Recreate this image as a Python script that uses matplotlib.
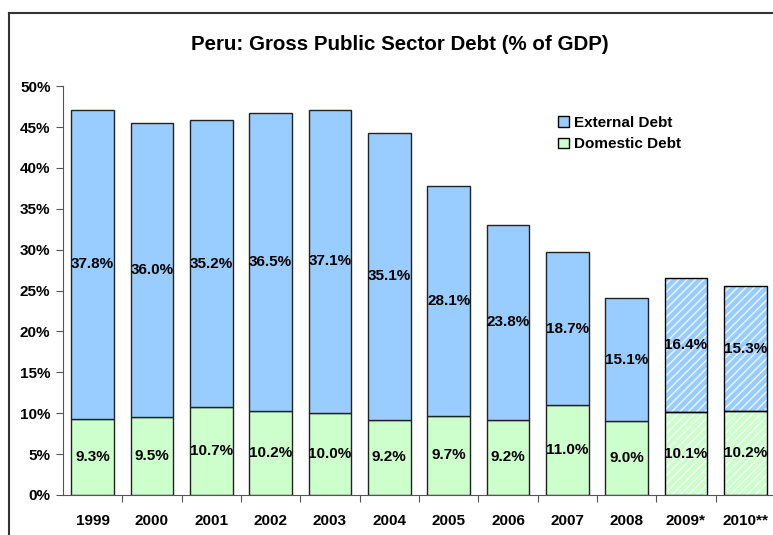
import matplotlib.pyplot as plt
from matplotlib.lines import Line2D

years = ['1999', '2000', '2001', '2002', '2003', '2004', '2005', '2006',
         '2007', '2008', '2009*', '2010**']
domestic = [9.3, 9.5, 10.7, 10.2, 10.0, 9.2, 9.7, 9.2, 11.0, 9.0, 10.1, 10.2]
external = [37.8, 36.0, 35.2, 36.5, 37.1, 35.1, 28.1, 23.8, 18.7, 15.1, 16.4, 15.3]
projected = [False] * 10 + [True, True]

blue = '#99CCFF'
green = '#CCFFCC'

plt.rcParams['font.family'] = ['Liberation Sans', 'DejaVu Sans']
plt.rcParams['font.weight'] = 'bold'
plt.rcParams['hatch.linewidth'] = 1.0


def main():
    fig = plt.figure(figsize=(7.73, 5.35), dpi=100)
    ax = fig.add_axes([0.0815, 0.075, 0.921, 0.764])
    x = list(range(len(years)))
    w = 0.72

    for i in x:
        d, e = domestic[i], external[i]
        if projected[i]:
            ax.bar(i, d, w, color=green, hatch='////', edgecolor='#F4FFF4', linewidth=0)
            ax.bar(i, e, w, bottom=d, color=blue, hatch='////', edgecolor='#EEF6FF', linewidth=0)
            ax.bar(i, d, w, fill=False, edgecolor='black', linewidth=1)
            ax.bar(i, e, w, bottom=d, fill=False, edgecolor='black', linewidth=1)
        else:
            ax.bar(i, d, w, color=green, edgecolor='#222222', linewidth=1)
            ax.bar(i, e, w, bottom=d, color=blue, edgecolor='#222222', linewidth=1)
        ax.text(i, d / 2, f'{d:.1f}%', ha='center', va='center', fontsize=11, fontweight='bold')
        ax.text(i, d + e / 2, f'{e:.1f}%', ha='center', va='center', fontsize=11, fontweight='bold')

    ax.set_xlim(-0.5, len(years) - 0.5)
    ax.set_ylim(0, 50)
    ax.set_yticks(range(0, 51, 5))
    ax.set_yticklabels([f'{v}%' for v in range(0, 51, 5)], fontsize=11, fontweight='bold')
    ax.set_xticks([i + 0.5 for i in x])
    ax.set_xticklabels([])
    ax.set_xticks(x, minor=True)
    ax.set_xticklabels(years, minor=True, fontsize=11, fontweight='bold')
    ax.tick_params(axis='x', which='minor', length=0, pad=14)
    ax.tick_params(axis='x', which='major', length=5, color='#555555')
    ax.tick_params(axis='y', length=5, color='#555555', pad=4)
    for s in ['top', 'right']:
        ax.spines[s].set_visible(False)
    for s in ['left', 'bottom']:
        ax.spines[s].set_color('#555555')

    handles = [plt.Rectangle((0, 0), 1, 1, facecolor=blue, edgecolor='black', linewidth=1),
               plt.Rectangle((0, 0), 1, 1, facecolor=green, edgecolor='black', linewidth=1)]
    fig.legend(handles, ['External Debt', 'Domestic Debt'], loc='upper left',
               bbox_to_anchor=(0.712, 0.798), frameon=False, fontsize=11,
               handlelength=0.7, handleheight=0.7, handletextpad=0.35,
               labelspacing=0.5, borderpad=0)

    fig.text(0.517, 0.916, 'Peru: Gross Public Sector Debt (% of GDP)', ha='center',
             va='center', fontsize=14.8, fontweight='bold')

    fig.add_artist(Line2D([0.0116, 0.0116], [0, 0.9757], color='#333333', linewidth=1.5))
    fig.add_artist(Line2D([0.0116, 1.0], [0.9757, 0.9757], color='#333333', linewidth=1.5))

    fig.savefig('out.png', dpi=100)


if __name__ == '__main__':
    main()
